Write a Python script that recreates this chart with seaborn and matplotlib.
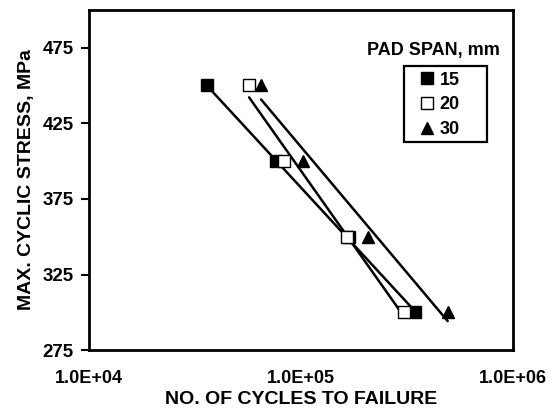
import numpy as np
import pandas as pd
import matplotlib
matplotlib.use("Agg")
import matplotlib.pyplot as plt
from matplotlib.patches import Rectangle
import seaborn as sns

spans = ["15", "20", "30"]
stress = [450, 400, 350, 300]
cycles_15 = [36000, 76000, 168000, 345000]
cycles_20 = [57000, 83000, 165000, 306000]
cycles_30 = [65000, 102000, 207000, 493000]
x_ticks = [1e4, 1e5, 1e6]
x_tick_labels = ["1.0E+04", "1.0E+05", "1.0E+06"]
y_ticks = [275, 325, 375, 425, 475]

sns.set_style("white")
plt.rcParams["font.family"] = ["Liberation Sans", "DejaVu Sans"]
plt.rcParams["font.weight"] = "bold"
plt.rcParams["text.color"] = "black"
plt.rcParams["axes.labelcolor"] = "black"
plt.rcParams["xtick.color"] = "black"
plt.rcParams["ytick.color"] = "black"

fig = plt.figure(figsize=(5.55, 4.11), dpi=100)
ax = fig.add_axes([0.160, 0.148, 0.764, 0.828])

styles = {
    "15": dict(marker="s", mfc="black", mec="black"),
    "20": dict(marker="s", mfc="white", mec="black"),
    "30": dict(marker="^", mfc="black", mec="black"),
}
series = {"15": cycles_15, "20": cycles_20, "30": cycles_30}

handles = []
for s in spans:
    df = pd.DataFrame({"cycles": series[s], "stress": stress})
    sns.regplot(data=df, x="cycles", y="stress", logx=True, ci=None, scatter=False,
                truncate=True, ax=ax, line_kws=dict(color="black", lw=1.8))
    h, = ax.plot(df["cycles"], df["stress"], linestyle="none", markersize=8.5,
                 markeredgewidth=1.0, label=s, **styles[s])
    handles.append(h)

ax.set_xscale("log")
ax.set_xlim(1e4, 1e6)
ax.set_ylim(275, 500)
ax.set_xticks(x_ticks)
ax.set_xticklabels(x_tick_labels)
ax.xaxis.set_minor_locator(matplotlib.ticker.NullLocator())
ax.set_yticks(y_ticks)

ax.tick_params(axis="x", direction="in", length=5, width=1.5, labelsize=13, pad=14,
               color="black", labelcolor="black")
ax.tick_params(axis="y", direction="out", length=6, width=1.5, labelsize=13.5, pad=5,
               color="black", labelcolor="black", left=True)
for lab in ax.get_xticklabels() + ax.get_yticklabels():
    lab.set_fontweight("bold")

for sp in ax.spines.values():
    sp.set_color("black")
    sp.set_linewidth(2)

ax.set_xlabel("NO. OF CYCLES TO FAILURE", fontsize=14, fontweight="bold", labelpad=3, color="black")
ax.set_ylabel("MAX. CYCLIC STRESS, MPa", fontsize=14, fontweight="bold", labelpad=5.5, color="black")

ax.text(0.656, 0.882, "PAD SPAN, mm", transform=ax.transAxes, fontsize=13,
        fontweight="bold", ha="left", va="center", color="black")

ax.add_patch(Rectangle((0.743, 0.612), 0.196, 0.223, transform=ax.transAxes,
                       fill=True, facecolor="white", edgecolor="black", lw=1.6, zorder=4))
leg = ax.legend(handles=handles, loc="upper left", bbox_to_anchor=(0.781, 0.818),
                frameon=False, fontsize=13, handlelength=0.8, markerscale=0.95,
                handletextpad=0.3, borderpad=0.0, labelspacing=0.42, borderaxespad=0)
leg.set_zorder(5)
for t in leg.get_texts():
    t.set_fontweight("bold")
    t.set_color("black")

fig.savefig("out.png", dpi=100)
